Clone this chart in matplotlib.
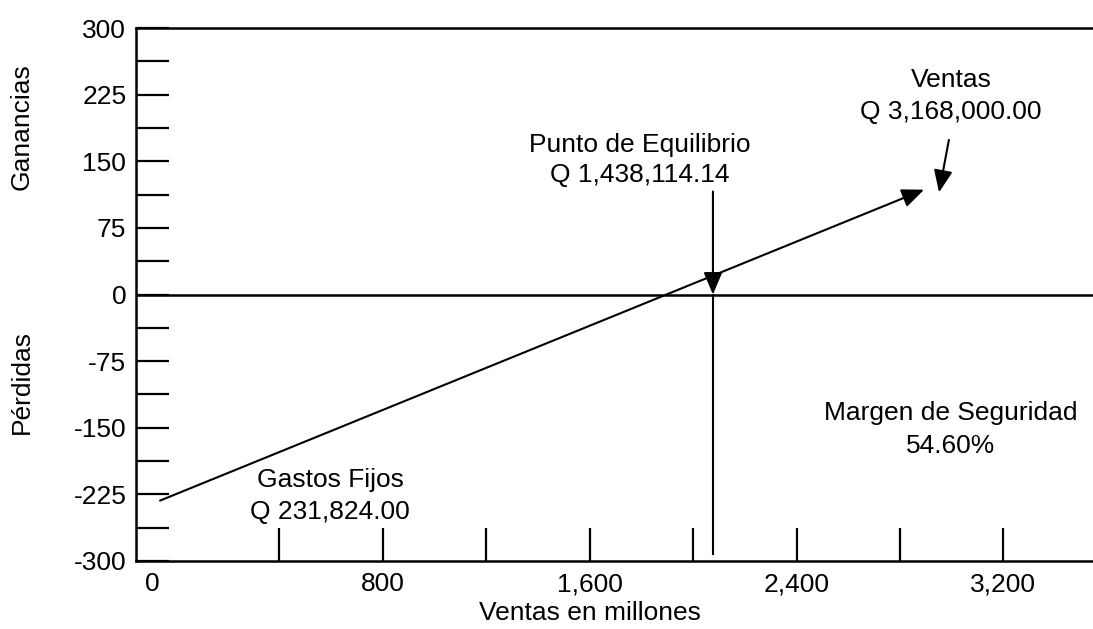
import matplotlib
matplotlib.use("Agg")
import matplotlib.pyplot as plt
from matplotlib.patches import ArrowStyle
from matplotlib.transforms import ScaledTranslation
import numpy as np

plt.rcParams['font.family'] = ['Liberation Sans', 'DejaVu Sans']

# ---- data ----
x_tick_values = [0, 800, 1600, 2400, 3200]
x_tick_labels = ["0", "800", "1,600", "2,400", "3,200"]
x_minor_ticks = [400, 1200, 2000, 2800]
y_tick_values = [-300, -225, -150, -75, 0, 75, 150, 225, 300]
y_tick_labels = ["-300", "-225", "-150", "-75", "0", "75", "150", "225", "300"]
y_minor_ticks = [-262.5, -187.5, -112.5, -37.5, 37.5, 112.5, 187.5, 262.5]

profit_line_x = [-60, 2893]
profit_line_y = [-232, 118]

breakeven_x = 2077
breakeven_top = 116
breakeven_bottom = -292

ventas_arrow_start = (2989, 174)
ventas_arrow_end = (2951, 115)

annotations = [
    ("Punto de Equilibrio", 1795, 168),
    ("Q 1,438,114.14", 1795, 134),
    ("Ventas", 2997, 241),
    ("Q 3,168,000.00", 2997, 205),
    ("Gastos Fijos", 597, -209),
    ("Q 231,824.00", 597, -245),
    ("Margen de Seguridad", 2997, -133),
    ("54.60%", 2997, -170),
]

FS = 19
fig = plt.figure(figsize=(10.93, 6.29), dpi=100)
ax = fig.add_axes([136/1093, 1-561/629, 1-136/1093, (561-28)/629])
ax.set_xlim(-153, 3546)
ax.set_ylim(-300, 300)

for s in ['left', 'bottom', 'top']:
    ax.spines[s].set_linewidth(1.8)
ax.spines['right'].set_visible(False)

ax.set_xticks(x_tick_values)
ax.set_xticklabels(x_tick_labels, fontsize=FS)
ax.set_xticks(x_minor_ticks, minor=True)
ax.set_yticks(y_tick_values)
ax.set_yticklabels(y_tick_labels, fontsize=FS)
ax.set_yticks(y_minor_ticks, minor=True)
ax.tick_params(axis='both', which='both', direction='in', length=24, width=1.6)
ax.tick_params(axis='y', which='major', pad=7)
ax.tick_params(axis='x', which='major', pad=8)

# hide the tick mark at 0 and shift its label left
t0 = ax.xaxis.get_major_ticks()[0]
t0.tick1line.set_visible(False)
lbl = t0.label1
lbl.set_transform(lbl.get_transform() + ScaledTranslation(-23/100, 0, fig.dpi_scale_trans))

# zero line
ax.axhline(0, color='black', lw=1.8)

style = ArrowStyle('-|>', head_length=0.9, head_width=0.38)
arrow_kw = dict(arrowstyle=style, mutation_scale=15, lw=1.5, color='black', shrinkA=0, shrinkB=0)
# main profit line with arrow
ax.annotate("", xy=(profit_line_x[1], profit_line_y[1]), xytext=(profit_line_x[0], profit_line_y[0]),
            arrowprops=arrow_kw)
# breakeven arrow
ax.annotate("", xy=(breakeven_x, 0), xytext=(breakeven_x, breakeven_top), arrowprops=arrow_kw)
ax.plot([breakeven_x, breakeven_x], [0, breakeven_bottom], color='black', lw=1.5)
# ventas arrow
ax.annotate("", xy=ventas_arrow_end, xytext=ventas_arrow_start, arrowprops=arrow_kw)

for txt, x, y in annotations:
    ax.text(x, y, txt, fontsize=FS, ha='center', va='center', color='black')

fig.text(22/1093, 1-127/629, "Ganancias", rotation=90, fontsize=FS, ha='center', va='center')
fig.text(22/1093, 1-382/629, "Pérdidas", rotation=90, fontsize=FS, ha='center', va='center')
fig.text(590/1093, 1-613/629, "Ventas en millones", fontsize=FS, ha='center', va='center')

fig.savefig("out.png", dpi=100)
